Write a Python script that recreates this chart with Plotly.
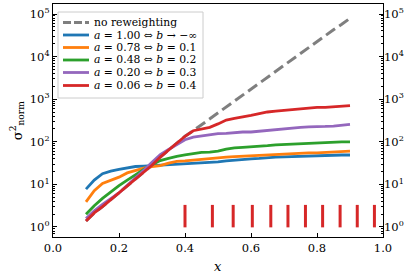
import plotly.graph_objects as go

# ---------------- data ----------------
x = [0.100, 0.125, 0.150, 0.175, 0.200, 0.225, 0.250, 0.275, 0.300, 0.325, 0.350,
     0.375, 0.400, 0.425, 0.450, 0.475, 0.500, 0.525, 0.550, 0.575, 0.600, 0.625,
     0.650, 0.675, 0.700, 0.725, 0.750, 0.775, 0.800, 0.825, 0.850, 0.875, 0.900]

no_reweighting = [1.38, 2.14, 3.02, 4.37, 6.61, 9.33, 13.2, 19.1, 28.2, 43.7, 64.6,
                  95.5, 135, 182, 251, 347, 490, 676, 933, 1288, 1778, 2455,
                  3388, 4571, 6310, 8710, 12020, 16220, 22390, 30900, 42660, 57540, 79430]
a_100 = [7.76, 12.6, 17.8, 20.4, 22.4, 24.5, 26.3, 26.9, 27.5, 28.8, 29.5,
         30.2, 30.9, 31.6, 32.4, 33.1, 33.9, 35.5, 37.2, 38.9, 39.8, 40.7,
         42.7, 43.7, 44.2, 45.0, 45.7, 46.8, 46.5, 47.9, 47.6, 49.0, 49.0]
a_078 = [3.89, 7.08, 10.5, 12.6, 14.8, 18.6, 21.4, 24.0, 26.3, 27.5, 31.6,
         34.7, 35.5, 37.2, 38.9, 40.7, 42.7, 43.7, 44.7, 45.7, 46.8, 49.0,
         50.1, 51.3, 52.5, 52.5, 53.7, 55.0, 55.0, 56.2, 57.5, 58.9, 60.3]
a_048 = [2.00, 3.16, 4.68, 6.76, 9.33, 12.6, 17.0, 22.4, 28.8, 36.3, 40.7,
         45.7, 49.0, 52.5, 56.2, 57.5, 60.3, 67.6, 72.4, 74.1, 75.9, 79.4,
         81.3, 85.1, 87.1, 89.1, 89.1, 91.2, 93.3, 95.5, 97.7, 100, 100]
a_020 = [1.58, 2.40, 3.39, 4.68, 6.31, 9.55, 14.1, 21.4, 33.1, 50.1, 66.1,
         87.1, 112, 129, 138, 145, 155, 158, 166, 170, 170, 178,
         186, 195, 204, 214, 219, 224, 224, 229, 234, 245, 257]
a_006 = [1.38, 2.14, 3.02, 4.37, 6.61, 9.33, 13.2, 19.1, 28.2, 43.7, 64.6,
         95.5, 135, 182, 200, 219, 263, 324, 355, 380, 417, 457,
         501, 525, 550, 575, 603, 631, 646, 646, 661, 692, 708]

bar_x = [0.400, 0.483, 0.546, 0.604, 0.660, 0.712, 0.765, 0.817, 0.870, 0.922, 0.974]
bar_low, bar_high = 0.98, 3.3

labels = [
    "no reweighting",
    "<i>a</i> = 1.00 \u21d4 <i>b</i> \u2192 \u2212\u221e",
    "<i>a</i> = 0.78 \u21d4 <i>b</i> = 0.1",
    "<i>a</i> = 0.48 \u21d4 <i>b</i> = 0.2",
    "<i>a</i> = 0.20 \u21d4 <i>b</i> = 0.3",
    "<i>a</i> = 0.06 \u21d4 <i>b</i> = 0.4",
]
series = [no_reweighting, a_100, a_078, a_048, a_020, a_006]
colors = ["#7f7f7f", "#1f77b4", "#ff7f0e", "#2ca02c", "#9467bd", "#d62728"]
dashes = ["11px,5px", "solid", "solid", "solid", "solid", "solid"]

ytick_vals = [1, 10, 100, 1000, 10000, 100000]
ytick_text = ["10<sup>0</sup>", "10<sup>1</sup>", "10<sup>2</sup>",
              "10<sup>3</sup>", "10<sup>4</sup>", "10<sup>5</sup>"]
xtick_vals = [0.0, 0.2, 0.4, 0.6, 0.8, 1.0]

# ---------------- figure ----------------
FONT = "DejaVu Serif"
fig = go.Figure()

for lab, ys, col, dsh in zip(labels, series, colors, dashes):
    fig.add_trace(go.Scatter(x=x, y=ys, mode="lines", name=lab,
                             line=dict(color=col, width=2.8 if dsh == "solid" else 3, dash=dsh),
                             showlegend=False))

bx, by = [], []
for b in bar_x:
    bx += [b, b, None]
    by += [bar_low, bar_high, None]
fig.add_trace(go.Scatter(x=bx, y=by, mode="lines",
                         line=dict(color="#d62728", width=3),
                         showlegend=False, hoverinfo="skip"))

# invisible trace to activate right axis
fig.add_trace(go.Scatter(x=[0.5], y=[1], yaxis="y2", mode="markers",
                         marker=dict(opacity=0), showlegend=False, hoverinfo="skip"))

minor_vals = [k * 10 ** d for d in range(-1, 6) for k in range(2, 10)]
yr = [-0.235, 5.235]

common_y = dict(type="log", range=yr, tickvals=ytick_vals, ticktext=ytick_text,
                ticks="inside", ticklen=4, tickwidth=1, tickcolor="black",
                showgrid=False, zeroline=False,
                minor=dict(tickvals=minor_vals, ticks="inside", ticklen=2,
                           tickwidth=0.8, tickcolor="black", showgrid=False),
                tickfont=dict(family=FONT, size=11.5, color="black"))

fig.update_layout(
    width=415, height=280,
    margin=dict(l=53, r=32, t=4, b=43),
    paper_bgcolor="white", plot_bgcolor="white",
    font=dict(family=FONT, size=12, color="black"),
    xaxis=dict(range=[0, 1], tickvals=xtick_vals, tickformat=".1f",
               ticks="inside", ticklen=4, tickwidth=1, tickcolor="black",
               showline=True, linecolor="black", linewidth=1.3, mirror=True,
               showgrid=False, zeroline=False,
               tickfont=dict(family=FONT, size=11.5, color="black")),
    yaxis=dict(showline=True, linecolor="black", linewidth=1.3, mirror=True,
               **common_y),
    yaxis2=dict(overlaying="y", side="right", showline=False, **common_y),
    showlegend=False,
)

# axis titles
fig.add_annotation(text="<i>x</i>", xref="paper", yref="paper", x=0.5, y=-0.125,
                   showarrow=False, yanchor="middle",
                   font=dict(family=FONT, size=13))
fig.add_annotation(text="\u03c3<sup>2</sup><sub>norm</sub>", xref="paper", yref="paper",
                   x=-0.11, y=0.5, textangle=-90, showarrow=False,
                   xanchor="center", yanchor="middle",
                   font=dict(family=FONT, size=13))

# compact legend drawn like the reference
def px2x(p):
    return (p - 53) / 330.0

def px2y(p):
    return (237 - p) / 233.0

fig.add_shape(type="rect", xref="paper", yref="paper",
              x0=px2x(58), x1=px2x(203), y0=px2y(98), y1=px2y(12),
              fillcolor="rgba(255,255,255,0.85)", line=dict(color="#cccccc", width=1))
row_y = [22.5, 35, 47.5, 60, 72.5, 85.5]
for lab, col, dsh, ry in zip(labels, colors, dashes, row_y):
    fig.add_shape(type="line", xref="paper", yref="paper",
                  x0=px2x(63), x1=px2x(89), y0=px2y(ry), y1=px2y(ry),
                  line=dict(color=col, width=2.8,
                            dash="8px,3px" if dsh != "solid" else "solid"))
    fig.add_annotation(text=lab, xref="paper", yref="paper",
                       x=px2x(92), y=px2y(ry), xanchor="left", yanchor="middle",
                       showarrow=False, font=dict(family=FONT, size=10.8, color="black"))

fig.write_html("out.html", config={"displayModeBar": False},
               post_script="document.body.style.margin='0';")
